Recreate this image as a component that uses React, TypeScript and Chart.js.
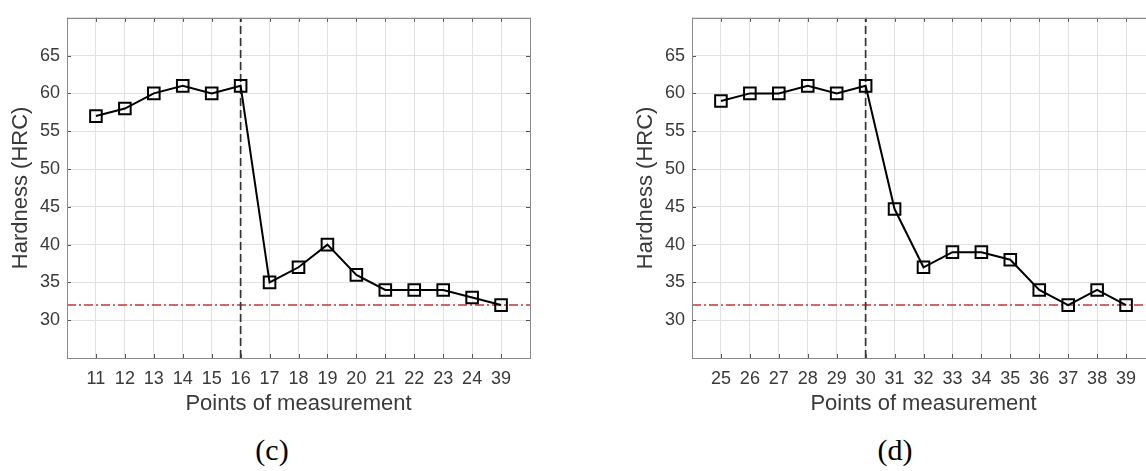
import React, { useEffect, useRef } from 'react';
import { Chart, registerables } from 'chart.js';

Chart.register(...registerables);

// ---- data ----
const categoriesC = ['11', '12', '13', '14', '15', '16', '17', '18', '19', '20', '21', '22', '23', '24', '39'];
const hardnessC = [57, 58, 60, 61, 60, 61, 35, 37, 40, 36, 34, 34, 34, 33, 32];
const boundaryC = '16';
const captionC = '(c)';

const categoriesD = ['25', '26', '27', '28', '29', '30', '31', '32', '33', '34', '35', '36', '37', '38', '39'];
const hardnessD = [59, 60, 60, 61, 60, 61, 44.7, 37, 39, 39, 38, 34, 32, 34, 32];
const boundaryD = '30';
const captionD = '(d)';

const yMin = 25;
const yMax = 70;
const yStep = 5;
const limitHRC = 32;
const yTitle = 'Hardness (HRC)';
const xTitle = 'Points of measurement';

// ---- styles ----
const FONT = "'Liberation Sans', Arial, sans-serif";
const TEXT = '#3a3a3a';
const CW = 560;
const CH = 430;

const framePlugin = {
  id: 'frameTicks',
  afterDraw(chart: any) {
    const { ctx, chartArea: a, scales } = chart;
    const x = scales.x;
    const y = scales.y;
    ctx.save();
    ctx.strokeStyle = '#555';
    ctx.lineWidth = 1;
    ctx.beginPath();
    x.ticks.forEach((t: any) => {
      const px = Math.round(x.getPixelForValue(t.value)) + 0.5;
      ctx.moveTo(px, a.bottom);
      ctx.lineTo(px, a.bottom - 4);
      ctx.moveTo(px, a.top);
      ctx.lineTo(px, a.top + 4);
    });
    y.ticks.forEach((t: any) => {
      const py = Math.round(y.getPixelForValue(t.value)) + 0.5;
      ctx.moveTo(a.left, py);
      ctx.lineTo(a.left + 4, py);
      ctx.moveTo(a.right, py);
      ctx.lineTo(a.right - 4, py);
    });
    ctx.stroke();
    ctx.strokeStyle = '#8a8a8a';
    ctx.strokeRect(Math.round(a.left) + 0.5, Math.round(a.top) + 0.5, Math.round(a.right - a.left), Math.round(a.bottom - a.top));
    ctx.restore();
  },
};

function HardnessChart({ categories, values, boundary }: { categories: string[]; values: number[]; boundary: string }) {
  const ref = useRef<HTMLCanvasElement>(null);
  useEffect(() => {
    const n = categories.length;
    const bx = categories.indexOf(boundary) + 1;
    const chart = new Chart(ref.current!, {
      type: 'line',
      data: {
        datasets: [
          {
            data: values.map((v, i) => ({ x: i + 1, y: v })),
            borderColor: '#000',
            borderWidth: 2,
            pointStyle: 'rect',
            pointRadius: 8.2,
            pointBorderWidth: 2,
            pointBorderColor: '#000',
            pointBackgroundColor: 'rgba(0,0,0,0)',
            tension: 0,
          },
          {
            data: [{ x: bx, y: yMin }, { x: bx, y: yMax }],
            borderColor: '#333',
            borderWidth: 1.7,
            borderDash: [8, 4],
            pointRadius: 0,
          },
          {
            data: [{ x: 0, y: limitHRC }, { x: n + 1, y: limitHRC }],
            borderColor: '#cc3333',
            borderWidth: 1.5,
            borderDash: [9, 3, 2, 3],
            pointRadius: 0,
          },
        ],
      },
      options: {
        responsive: false,
        animation: false,
        layout: { padding: { left: 0, top: 7, right: CW - 530, bottom: 0 } },
        plugins: { legend: { display: false }, tooltip: { enabled: false } },
        scales: {
          x: {
            type: 'linear',
            min: 0,
            max: n + 1,
            afterFit: (s: any) => { s.height = 72; },
            ticks: {
              stepSize: 1,
              autoSkip: false,
              maxRotation: 0,
              padding: 10,
              color: TEXT,
              font: { family: FONT, size: 18 },
              callback: (v: any) => categories[v - 1] ?? '',
            },
            grid: { color: '#e2e2e2', drawTicks: false, lineWidth: 1 },
            border: { display: false },
            title: {
              display: true,
              text: xTitle,
              color: TEXT,
              font: { family: FONT, size: 22 },
              padding: { top: 0, bottom: 13 },
            },
          },
          y: {
            type: 'linear',
            min: yMin,
            max: yMax,
            afterFit: (s: any) => { s.width = 67; },
            ticks: {
              stepSize: yStep,
              padding: 7,
              color: TEXT,
              font: { family: FONT, size: 18 },
              callback: (v: any) => (v === yMin || v === yMax ? '' : String(v)),
            },
            grid: { color: '#e2e2e2', drawTicks: false, lineWidth: 1 },
            border: { display: false },
            title: {
              display: true,
              text: yTitle,
              color: TEXT,
              font: { family: FONT, size: 22 },
              padding: { top: 8, bottom: 0 },
            },
          },
        },
      },
      plugins: [framePlugin],
    } as any);
    return () => chart.destroy();
  }, [categories, values, boundary]);
  return <canvas ref={ref} width={CW} height={CH} style={{ display: 'block', width: CW, height: CH }} />;
}

const captionStyle: React.CSSProperties = {
  position: 'absolute',
  top: 435,
  width: 100,
  textAlign: 'center',
  fontFamily: "'Liberation Serif', 'Times New Roman', serif",
  fontSize: 30,
  lineHeight: 1,
  color: '#000',
};

export default function App() {
  return (
    <div style={{ position: 'fixed', left: 0, top: 0, width: 1146, height: 471, overflow: 'hidden', background: '#fff' }}>
      <div style={{ position: 'absolute', left: 0, top: 0 }}>
        <HardnessChart categories={categoriesC} values={hardnessC} boundary={boundaryC} />
      </div>
      <div style={{ position: 'absolute', left: 625, top: 0 }}>
        <HardnessChart categories={categoriesD} values={hardnessD} boundary={boundaryD} />
      </div>
      <div style={{ ...captionStyle, left: 272 - 50 }}>{captionC}</div>
      <div style={{ ...captionStyle, left: 895 - 50 }}>{captionD}</div>
    </div>
  );
}
